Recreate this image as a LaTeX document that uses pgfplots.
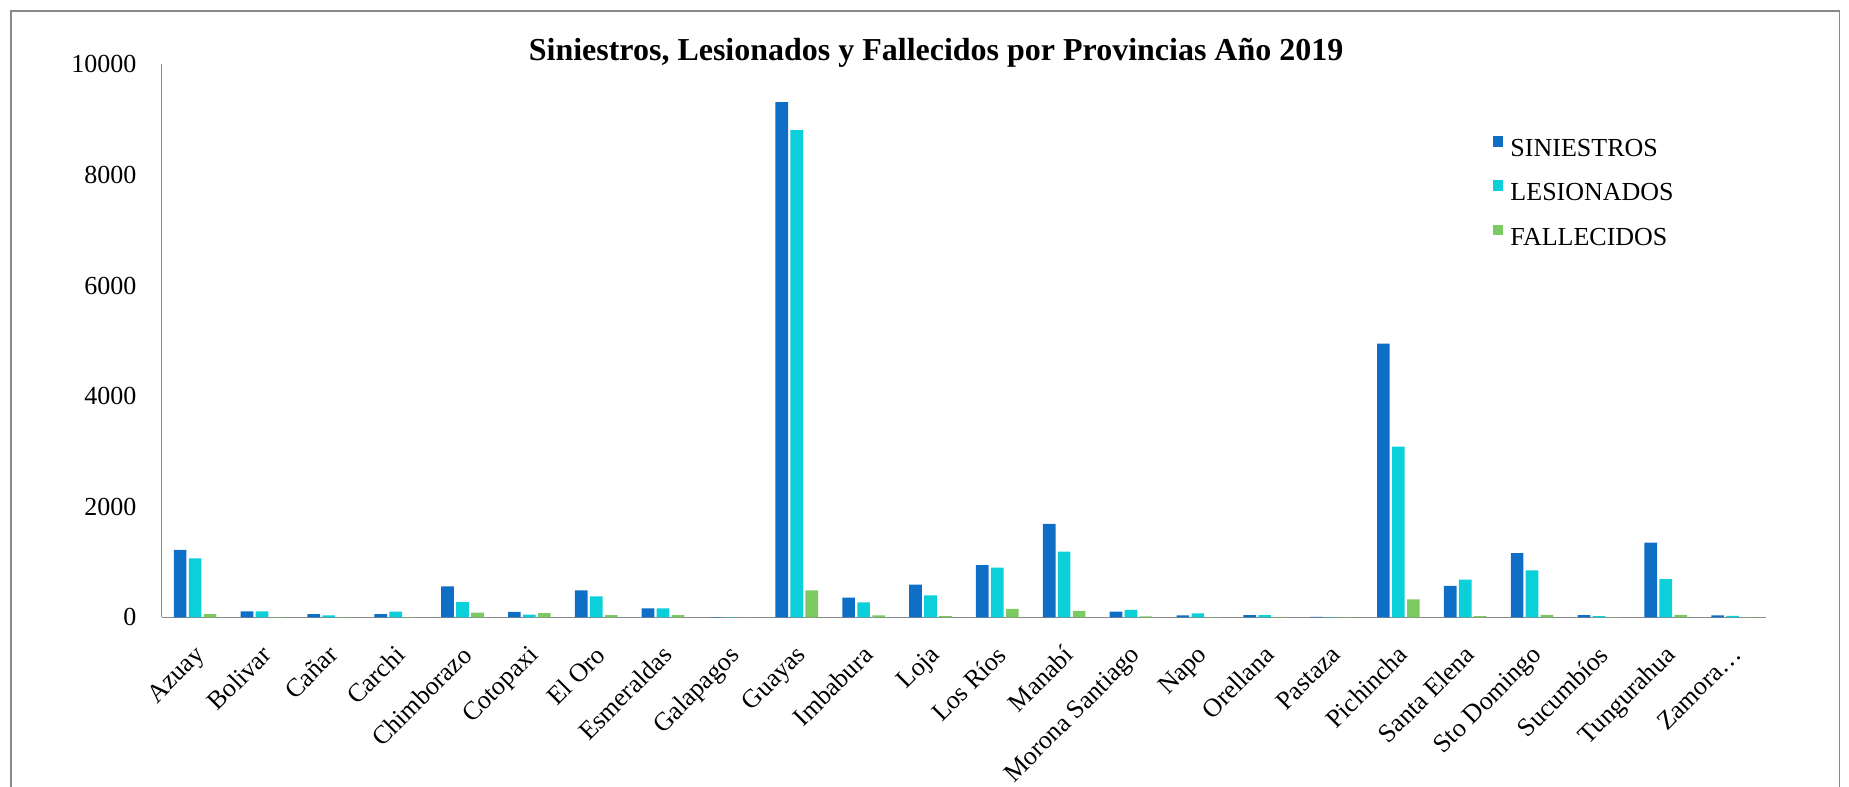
\documentclass[border=0pt]{standalone}
\usepackage{fontspec}
\setmainfont{Liberation Serif}
\usepackage{pgfplots}
\pgfplotsset{compat=1.18}
\usepackage{pgfplotstable}
\definecolor{cSin}{HTML}{0F6FC6}
\definecolor{cLes}{HTML}{0BD0D9}
\definecolor{cFal}{HTML}{7CCA62}
\definecolor{cAxis}{HTML}{898989}

\pgfplotstableread{
x sin les fal
0 1219 1068 60
1 109 109 5
2 60 36 3
3 60 103 5
4 561 277 84
5 97 48 78
6 489 380 42
7 163 163 42
8 4 2 0
9 9314 8807 489
10 356 272 36
11 592 399 24
12 942 900 151
13 1691 1190 115
14 103 133 18
15 36 72 5
16 42 42 10
17 10 6 3
18 4947 3088 326
19 571 680 24
20 1160 847 43
21 40 24 5
22 1350 692 43
23 35 27 3
}\datatable

\begin{document}
\begin{tikzpicture}
\useasboundingbox (0pt,0pt) rectangle (711.1pt,302.3pt);
\draw[cAxis, line width=0.45pt] (4.23pt,-1pt) -- (4.23pt,298.07pt) -- (707.3pt,298.07pt) -- (707.3pt,-1pt);
\node[font=\bfseries\fontsize{12.3}{14}\selectfont, inner sep=0pt] at (360pt,281.9pt) {Siniestros, Lesionados y Fallecidos por Provincias Año 2019};
\begin{axis}[
  at={(62.19pt,64.88pt)}, anchor=south west,
  scale only axis, width=617.0pt, height=212.7pt,
  xmin=-0.5, xmax=23.5, ymin=0, ymax=10000,
  enlarge x limits=false,
  axis x line*=bottom, axis y line*=left,
  axis line style={cAxis, line width=0.5pt},
  major tick length=0pt,
  ybar=0.885pt, bar width=4.88pt,
  xtick=data,
  xticklabels={Azuay,Bolivar,Cañar,Carchi,Chimborazo,Cotopaxi,El Oro,Esmeraldas,Galapagos,Guayas,Imbabura,Loja,Los Ríos,Manabí,Morona Santiago,Napo,Orellana,Pastaza,Pichincha,Santa Elena,Sto Domingo,Sucumbíos,Tungurahua,Zamora…},
  xticklabel style={xshift=-0.77pt, yshift=-10pt, rotate=45, anchor=north east, inner sep=0pt},
  ytick={0,2000,4000,6000,8000,10000},
  scaled y ticks=false,
  /pgf/number format/assume math mode=true,
  /pgf/number format/set thousands separator={},
  yticklabel style={anchor=east, inner sep=0pt, xshift=-9.5pt},
  legend image code/.code={\fill[#1] (0pt,1.2pt) rectangle (4.2pt,5.4pt);},
  legend style={draw=none, fill=none, at={(axis description cs:0.8292,0.8715)}, anchor=north west, inner sep=0pt, row sep=7.6pt, column sep=2.7pt, nodes={inner sep=0pt}},
  legend cell align=left,
]
\addplot[fill=cSin, draw=none] table[x=x, y=sin] {\datatable};
\addplot[fill=cLes, draw=none] table[x=x, y=les] {\datatable};
\addplot[fill=cFal, draw=none] table[x=x, y=fal] {\datatable};
\legend{SINIESTROS, LESIONADOS, FALLECIDOS}
\end{axis}
\end{tikzpicture}
\end{document}
